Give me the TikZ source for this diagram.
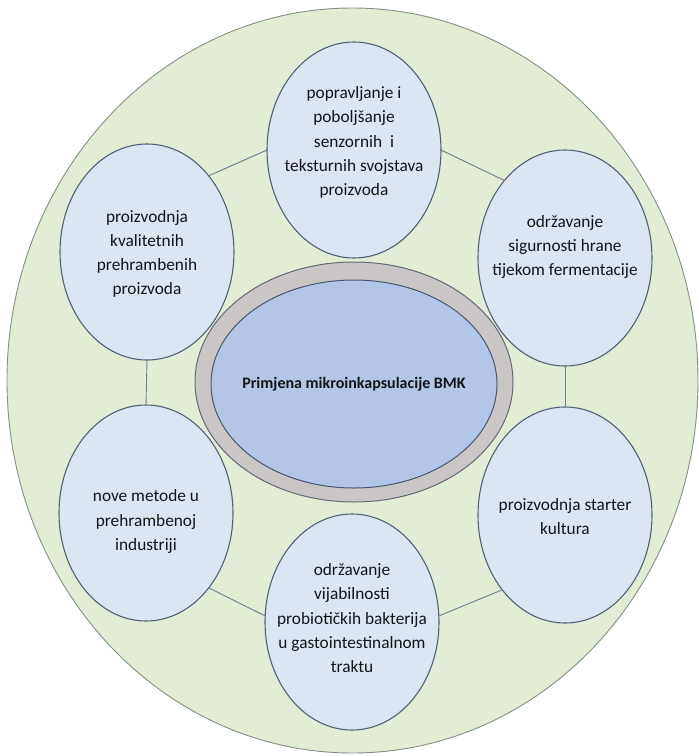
\documentclass[tikz,border=0pt]{standalone}
\usepackage{fontspec}
\setmainfont{Carlito}
\usetikzlibrary{shapes.geometric}
\definecolor{outerfill}{RGB}{227,236,212}
\definecolor{outerline}{RGB}{130,146,136}
\definecolor{bubblefill}{RGB}{220,230,242}
\definecolor{bubbleline}{RGB}{80,98,120}
\definecolor{ringfill}{RGB}{202,198,197}
\definecolor{ringline}{RGB}{100,104,120}
\definecolor{corefill}{RGB}{180,198,231}
\definecolor{coreline}{RGB}{72,88,112}
\definecolor{linkcol}{RGB}{104,126,146}
\definecolor{textcol}{RGB}{20,20,24}
\newcommand{\ctxt}[2]{\makebox[0pt]{\raisebox{#1}[0pt][0pt]{\begin{tabular}{@{}c@{}}#2\end{tabular}}}}
\begin{document}
\begin{tikzpicture}[x=1pt,y=-1pt,
  bubble/.style={ellipse, draw=bubbleline, line width=1.1pt, fill=bubblefill,
    minimum width=174pt, minimum height=216pt, inner sep=0pt, outer sep=0pt,
    font=\fontsize{17.3pt}{24.2pt}\selectfont, text=textcol},
  link/.style={draw=linkcol, line width=0.9pt}]
\useasboundingbox (0,0) rectangle (699,756);
\fill[white] (0,0) rectangle (699,756);
\node[ellipse, draw=outerline, fill=outerfill, line width=0.9pt,
  minimum width=691pt, minimum height=745pt, inner sep=0pt] (outer) at (352.5,380.5) {};
\node[ellipse, draw=ringline, fill=ringfill, line width=1pt,
  minimum width=318pt, minimum height=240pt, inner sep=0pt] (ring) at (354,382) {};
\node[ellipse, draw=coreline, fill=corefill, line width=1pt,
  minimum width=286pt, minimum height=208pt, inner sep=0pt, text=textcol,
  font=\bfseries\fontsize{16pt}{19pt}\selectfont] (core) at (354,384)
  {\makebox[0pt]{Primjena mikroinkapsulacije BMK}};
\node[bubble] (T) at (354,150) {\ctxt{3.4pt}{popravljanje i\\poboljšanje\\senzornih\ \ i\\teksturnih svojstava\\proizvoda}};
\node[bubble] (UL) at (147,252) {\ctxt{-6.1pt}{proizvodnja\\kvalitetnih\\prehrambenih\\proizvoda}};
\node[bubble] (UR) at (565,258) {\ctxt{6.9pt}{održavanje\\sigurnosti hrane\\tijekom fermentacije}};
\node[bubble] (LL) at (146,513) {\ctxt{-12.6pt}{nove metode u\\prehrambenoj\\industriji}};
\node[bubble] (LR) at (565,515) {\ctxt{-7.1pt}{proizvodnja starter\\kultura}};
\node[bubble] (B) at (352,622) {\ctxt{-1.6pt}{održavanje\\vijabilnosti\\probiotičkih bakterija\\u gastointestinalnom\\traktu}};
\draw[link] (T.west) -- (UL.51);
\draw[link] (T.east) -- (UR.128);
\draw[link] (UL.south) -- (LL.north);
\draw[link] (UR.south) -- (LR.north);
\draw[link] (LL.-50) -- (B.176);
\draw[link] (B.4) -- (LR.-130);
\end{tikzpicture}
\end{document}
